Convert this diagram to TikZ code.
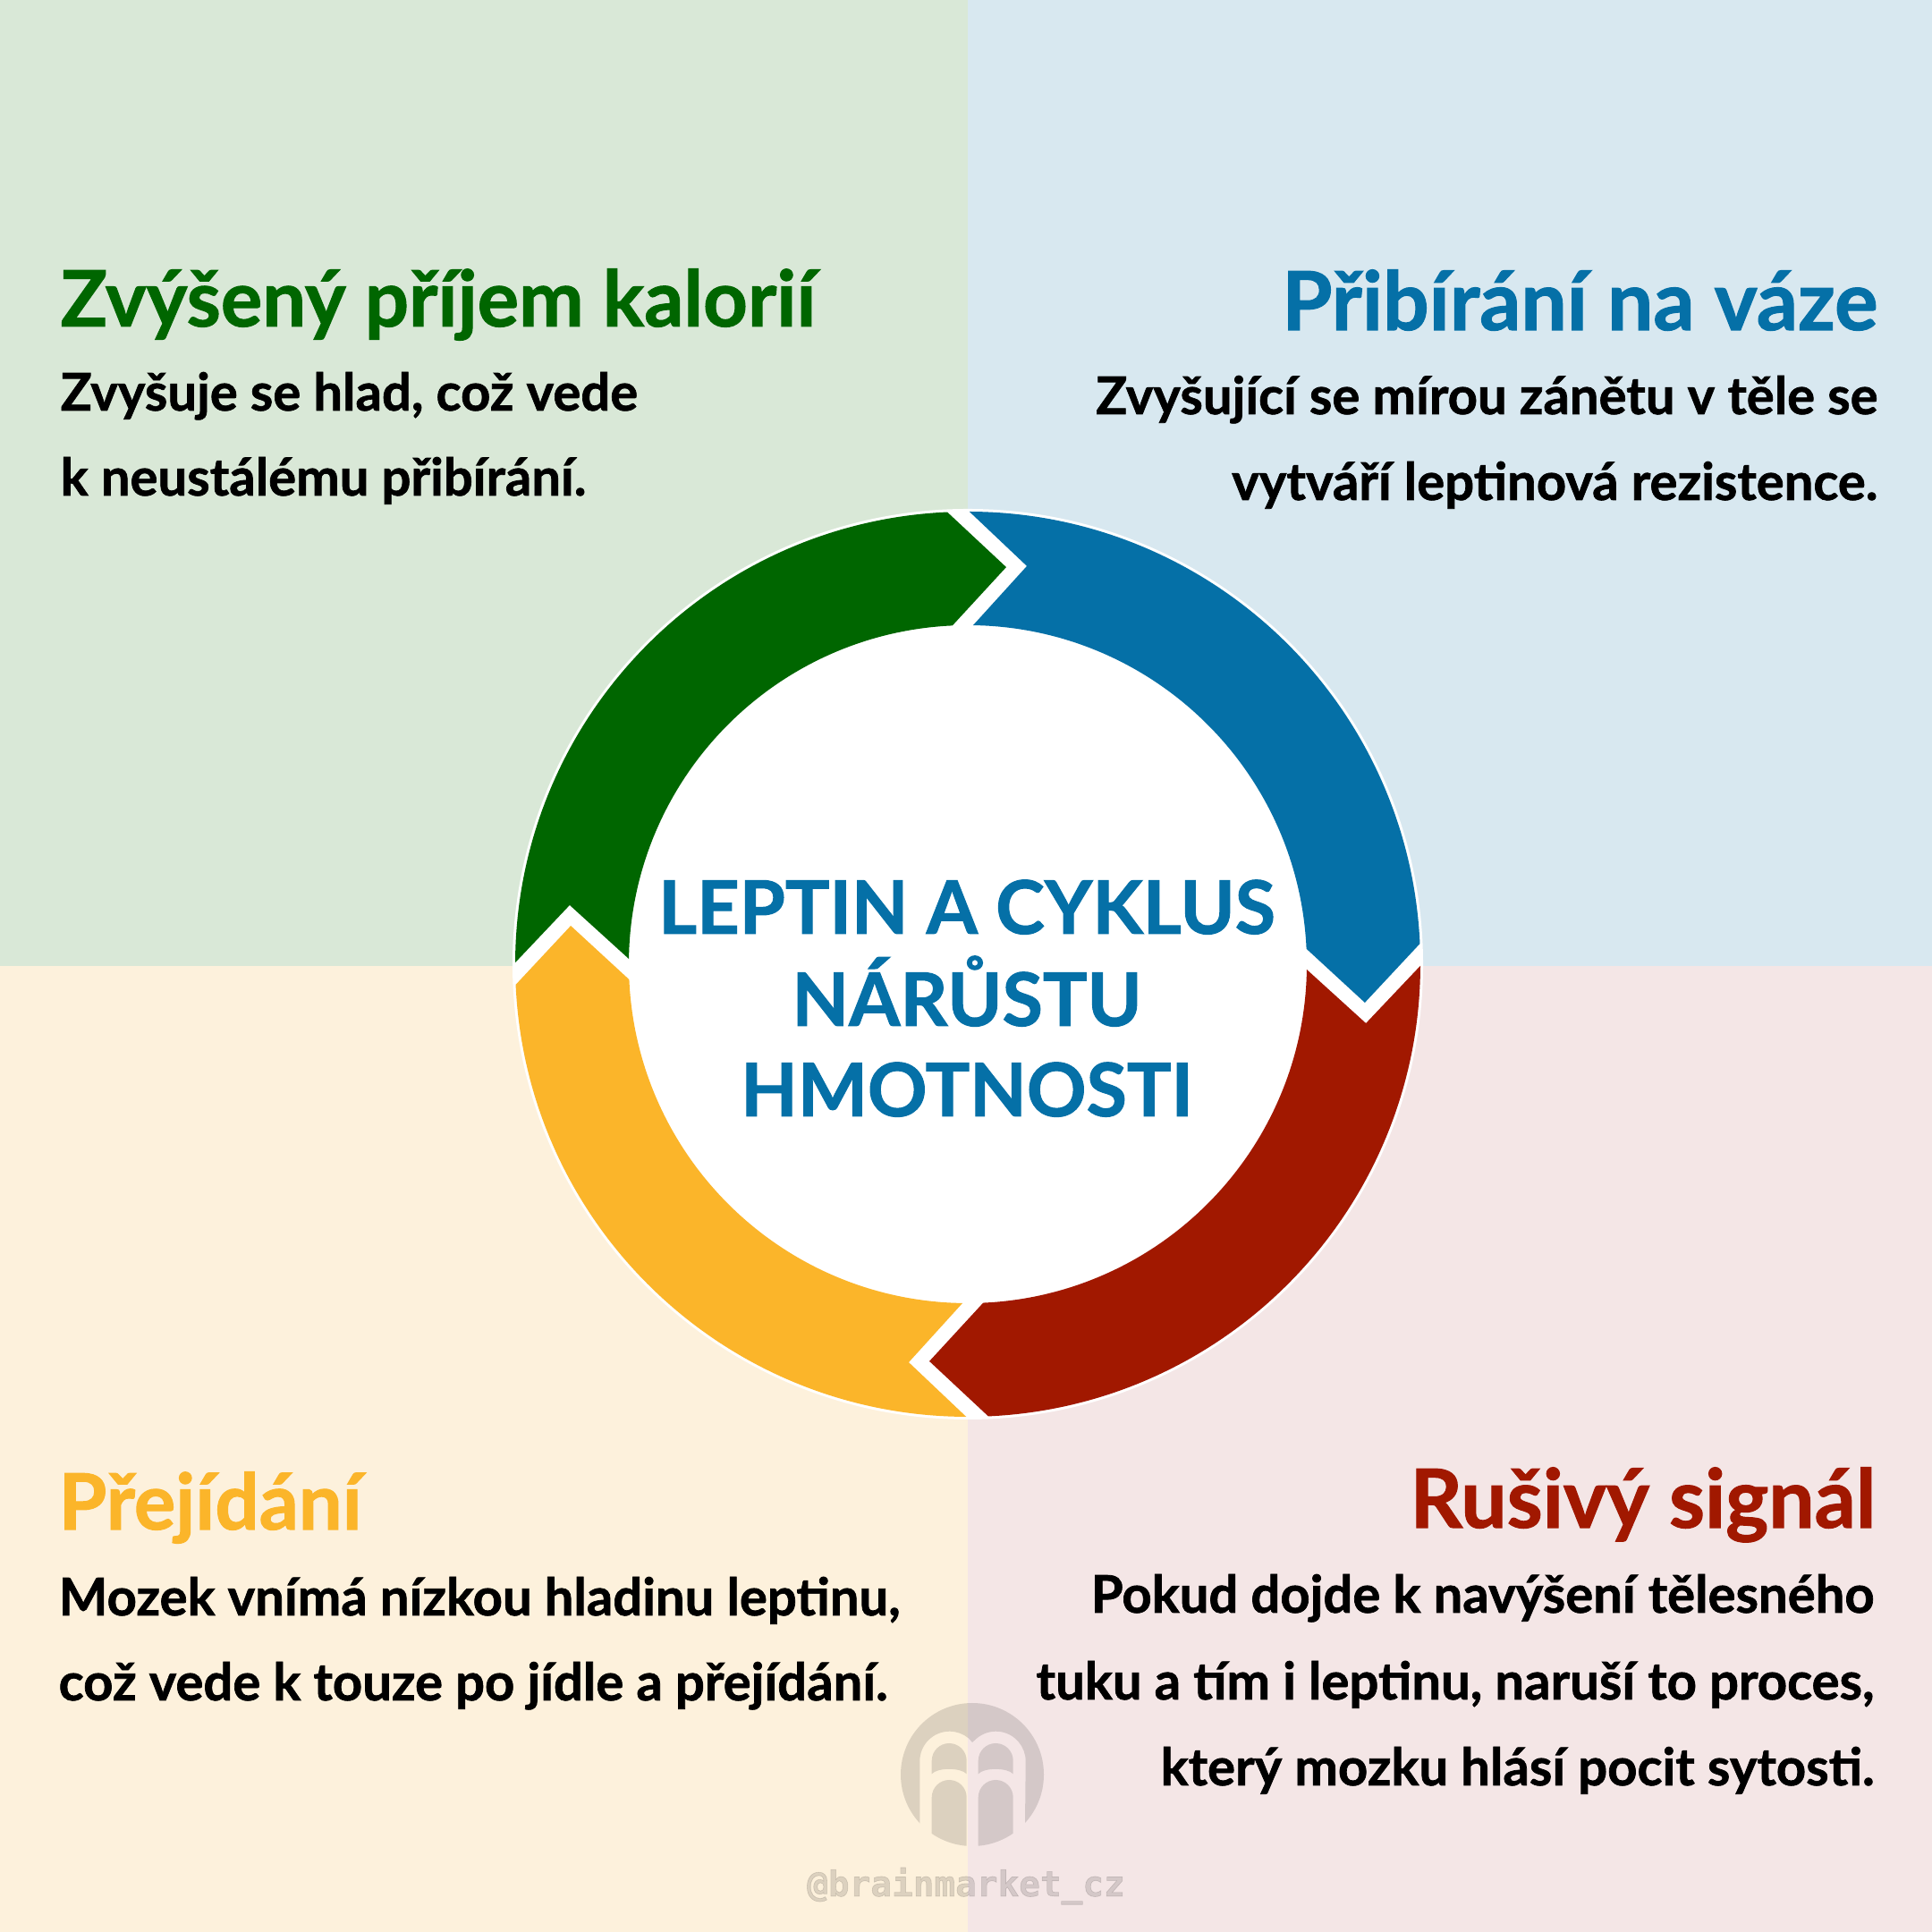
\documentclass[tikz,border=0pt]{standalone}
\usepackage{fontspec}
\setmainfont{Lato}[BoldFeatures = {FakeBold = 1.2}]
\newfontfamily\markfont{DejaVu Sans Mono}[BoldFeatures = {FakeBold = 1.5}]
\usetikzlibrary{positioning}

\definecolor{greenbg}{HTML}{D9E8D7}
\definecolor{bluebg}{HTML}{D8E8F0}
\definecolor{yellowbg}{HTML}{FDF1DC}
\definecolor{redbg}{HTML}{F4E6E6}
\definecolor{greenarc}{HTML}{006600}
\definecolor{bluearc}{HTML}{0570A7}
\definecolor{yellowarc}{HTML}{FBB52A}
\definecolor{redarc}{HTML}{A11800}

\tikzset{
  heading/.style = {inner sep = 0, font = \fontsize{24.7}{30}\selectfont\bfseries},
  bigheading/.style = {inner sep = 0, font = \fontsize{25.9}{30}\selectfont\bfseries},
  bodyline/.style = {inner sep = 0, text = black, font = \fontsize{16.5}{20}\selectfont\bfseries},
  title/.style = {inner sep = 0, text = bluearc, font = \fontsize{23.5}{28}\selectfont\bfseries},
  arcpart/.style = {draw = none, shift = {(10.82, 10.82)}}
}

\begin{document}
\begin{tikzpicture}
\useasboundingbox (0, 0) rectangle (21.6, 21.6);
\fill[greenbg] (0, 10.8) rectangle (10.82, 21.6);
\fill[bluebg] (10.82, 10.8) rectangle (21.6, 21.6);
\fill[yellowbg] (0, 0) rectangle (10.82, 10.8);
\fill[redbg] (10.82, 0) rectangle (21.6, 10.8);

% ring of four arrows
\coordinate (center) at (10.82, 10.82);
\fill[white] (center) circle (5.09);
\foreach \col/\rot in {bluearc/0, redarc/-90, yellowarc/-180, greenarc/-270} {
  \fill[arcpart, \col, rotate = \rot] (89.8:5.06) -- (81.56:4.5) -- (89.1:3.79)
    arc[start angle = 89.1, end angle = 2.6, radius = 3.79] -- (-5.53:4.46) -- (2.6:5.06)
    arc[start angle = 2.6, end angle = 89.8, radius = 5.06] -- cycle;
}

% centre
\node[title, anchor = base] (title1) at (10.81, 11.16) {LEPTIN A CYKLUS};
\node[title, anchor = base] (title2) at (10.81, 10.13) {NÁRŮSTU};
\node[title, anchor = base] (title3) at (10.81, 9.12) {HMOTNOSTI};

% top left
\node[heading, text = greenarc, anchor = base west] (calories) at (0.67, 17.95) {Zvýšený příjem kalorií};
\node[bodyline, anchor = base west] (calories1) at (0.67, 17.01) {Zvyšuje se hlad, což vede};
\node[bodyline, anchor = base west] (calories2) at (0.67, 16.06) {k neustálému přibírání.};

% top right
\node[bigheading, text = bluearc, anchor = base east] (weight) at (21.0, 17.91) {Přibírání na váze};
\node[bodyline, anchor = base east] (weight1) at (21.0, 16.97) {Zvyšující se mírou zánětu v těle se};
\node[bodyline, anchor = base east] (weight2) at (21.0, 16.01) {vytváří leptinová rezistence.};

% bottom left
\node[heading, text = yellowarc, anchor = base west] (overeat) at (0.65, 4.5) {Přejídání};
\node[bodyline, anchor = base west] (overeat1) at (0.65, 3.54) {Mozek vnímá nízkou hladinu leptinu,};
\node[bodyline, anchor = base west] (overeat2) at (0.65, 2.59) {což vede k touze po jídle a přejídání.};

% bottom right
\node[bigheading, text = redarc, anchor = base east] (signal) at (20.98, 4.52) {Rušivý signál};
\node[bodyline, anchor = base east] (signal1) at (20.96, 3.57) {Pokud dojde k navýšení tělesného};
\node[bodyline, anchor = base east] (signal2) at (20.96, 2.6) {tuku a tím i leptinu, naruší to proces,};
\node[bodyline, anchor = base east] (signal3) at (20.96, 1.64) {který mozku hlásí pocit sytosti.};

% watermark
\begin{scope}
\clip (10.87, 1.76) circle (0.8);
\fill[black, opacity = 0.13, even odd rule] (10, 0.9) rectangle (11.7, 2.6)
  (10.283, 0.9) -- (10.283, 1.91) arc[start angle = 180, end angle = 50, radius = 0.333]
  -- (10.87, 2.12) -- (10.92, 2.165) arc[start angle = 130, end angle = 0, radius = 0.333] -- (11.457, 0.9) -- cycle
  (10.417, 0.9) -- (10.417, 1.505) arc[start angle = 180, end angle = 0, radius = 0.195] -- (10.807, 0.9) -- cycle
  (10.937, 0.9) -- (10.937, 1.505) arc[start angle = 180, end angle = 0, radius = 0.195] -- (11.327, 0.9) -- cycle
  (10.417, 1.767) -- (10.417, 1.915) arc[start angle = 180, end angle = 0, radius = 0.195] -- (10.807, 1.767)
    .. controls (10.74, 1.84) and (10.48, 1.84) .. cycle
  (10.937, 1.767) -- (10.937, 1.915) arc[start angle = 180, end angle = 0, radius = 0.195] -- (11.327, 1.767)
    .. controls (11.26, 1.84) and (11.0, 1.84) .. cycle;
\end{scope}
\node[inner sep = 0, anchor = base, text = black, text opacity = 0.13, font = \fontsize{11.2}{13}\selectfont\markfont\bfseries] (handle) at (10.8, 0.4) {@brainmarket\_cz};
\end{tikzpicture}
\end{document}
